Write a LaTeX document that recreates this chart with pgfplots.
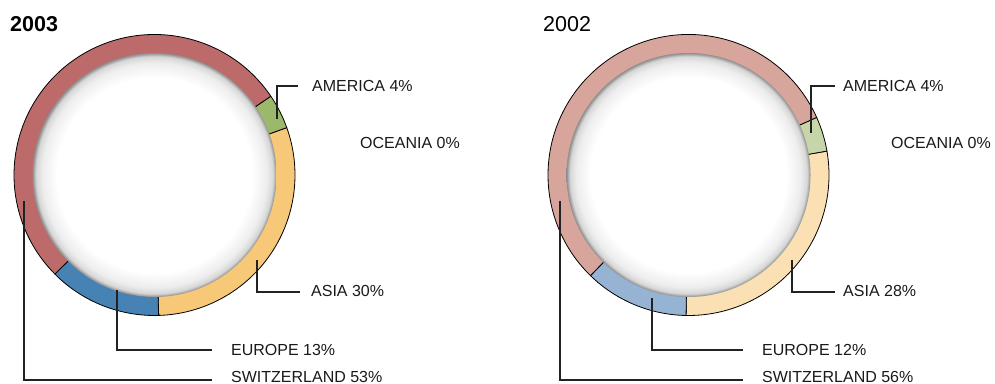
\documentclass[border=0pt]{standalone}
\usepackage{pgfplots}
\pgfplotsset{compat=1.18}
\usepackage{pgfplotstable}
\usepackage{fontspec}
\setmainfont{Liberation Sans}
\definecolor{swiA}{HTML}{BD6A6A}
\definecolor{amerA}{HTML}{9CB96B}
\definecolor{oceA}{HTML}{6A9AC8}
\definecolor{asiaA}{HTML}{F7C878}
\definecolor{eurA}{HTML}{4682B4}
\definecolor{swiB}{HTML}{D8A59D}
\definecolor{amerB}{HTML}{C7D6A8}
\definecolor{oceB}{HTML}{B0C8E0}
\definecolor{asiaB}{HTML}{FAE0B2}
\definecolor{eurB}{HTML}{96B3D3}
\definecolor{leader}{HTML}{222222}
\pgfdeclareradialshading{innershadow}{\pgfpoint{0bp}{0bp}}{color(0bp)=(white); color(20bp)=(white); color(23bp)=(black!7); color(24.3bp)=(black!16); color(25bp)=(black!45); color(50bp)=(black!45)}

% 2003 shares (%), counter-clockwise from the bottom
\pgfplotstableread{
region pct col
ASIA 30 asiaA
AMERICA 4 amerA
OCEANIA 0 oceA
SWITZERLAND 53 swiA
EUROPE 13 eurA
}\dataA
% 2002 shares (%)
\pgfplotstableread{
region pct col
ASIA 28 asiaB
AMERICA 4 amerB
OCEANIA 0 oceB
SWITZERLAND 56 swiB
EUROPE 12 eurB
}\dataB

\newcommand\donut[4]{% #1 table, #2 cx, #3 cy, #4 start angle
  \pgfplotstablegetrowsof{#1}\pgfmathtruncatemacro\nrows{\pgfplotsretval-1}%
  \xdef\curang{#4}%
  \pgfplotsforeachungrouped \i in {0,...,\nrows}{%
    \pgfplotstablegetelem{\i}{pct}\of{#1}\let\pct\pgfplotsretval
    \pgfplotstablegetelem{\i}{col}\of{#1}\let\col\pgfplotsretval
    \pgfmathsetmacro\nextang{\curang+3.6*\pct}%
    \ifdim\pct pt>0pt
      \edef\tmp{\noexpand\filldraw[fill=\col,draw=black,line width=0.8bp,line join=round] (axis cs:#2,#3) -- ++(\curang:140.5bp) arc[start angle=\curang, end angle=\nextang, radius=140.5bp] -- cycle;}\tmp
    \fi
    \xdef\curang{\nextang}%
  }%
  \edef\tmp{\noexpand\shade[shading=innershadow] (axis cs:#2,#3) circle[radius=122bp];}\tmp
}

\begin{document}
\begin{tikzpicture}
\begin{axis}[at={(0,0)}, anchor=south west, scale only axis,
  width=995bp, height=384bp, xmin=0, xmax=995, ymin=0, ymax=384,
  hide axis, clip=false]
\donut{\dataA}{154.5}{209}{-88.3}
\donut{\dataB}{688.5}{209}{-91}

\tikzset{lead/.style={draw=leader, line width=1.3bp},
  lab/.style={anchor=base west, inner sep=0pt, font=\fontsize{16bp}{18bp}\selectfont, text=black!90}}
% leaders 2003
\draw[lead] (axis cs:277,265) |- (axis cs:298,298);
\draw[lead] (axis cs:257,124) |- (axis cs:300,92);
\draw[lead] (axis cs:117,94) |- (axis cs:212,34);
\draw[lead] (axis cs:24,183) |- (axis cs:212,4);
% leaders 2002
\draw[lead] (axis cs:811,251) |- (axis cs:835,298);
\draw[lead] (axis cs:792,124) |- (axis cs:835,92);
\draw[lead] (axis cs:652,86) |- (axis cs:743,34);
\draw[lead] (axis cs:560,183) |- (axis cs:743,4);

\node[lab] at (axis cs:312,292) {AMERICA 4\%};
\node[lab] at (axis cs:360,235) {OCEANIA 0\%};
\node[lab] at (axis cs:311,87) {ASIA 30\%};
\node[lab] at (axis cs:231,29) {EUROPE 13\%};
\node[lab] at (axis cs:231,2) {SWITZERLAND 53\%};

\node[lab] at (axis cs:843,292) {AMERICA 4\%};
\node[lab] at (axis cs:891,235) {OCEANIA 0\%};
\node[lab] at (axis cs:843,87) {ASIA 28\%};
\node[lab] at (axis cs:762,29) {EUROPE 12\%};
\node[lab] at (axis cs:762,2) {SWITZERLAND 56\%};

\node[anchor=base west, inner sep=0pt, font=\bfseries\fontsize{21.5bp}{24bp}\selectfont] at (axis cs:10,352) {2003};
\node[anchor=base west, inner sep=0pt, font=\fontsize{21.5bp}{24bp}\selectfont] at (axis cs:543,352) {2002};
\end{axis}
\pgfresetboundingbox
\useasboundingbox (0,0) rectangle (995bp,384bp);
\end{tikzpicture}
\end{document}
